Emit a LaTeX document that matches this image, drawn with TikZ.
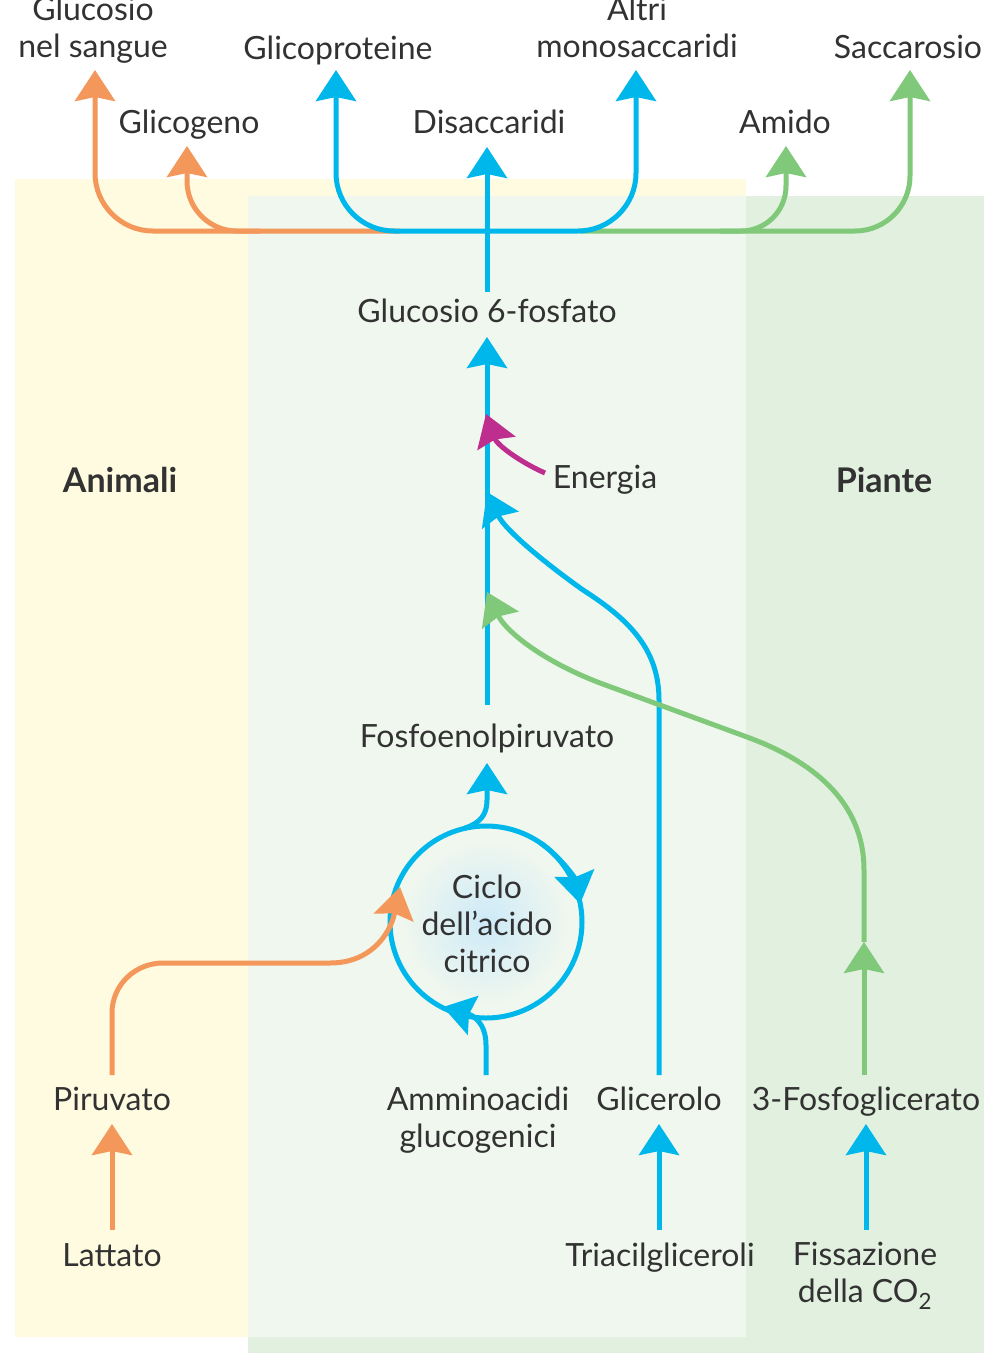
\documentclass[tikz,border=0pt]{standalone}
\usepackage{fontspec}
\setmainfont{Lato}
\usetikzlibrary{arrows.meta}
\definecolor{txt}{RGB}{50,50,50}
\definecolor{orL}{RGB}{244,151,90}
\definecolor{blL}{RGB}{0,183,235}
\definecolor{grL}{RGB}{128,201,122}
\definecolor{mgL}{RGB}{190,46,143}
\definecolor{ybg}{RGB}{255,251,224}
\definecolor{gbg}{RGB}{226,241,223}
\definecolor{pbg}{RGB}{240,247,238}
\definecolor{glow}{RGB}{205,234,248}
\begin{document}
\begin{tikzpicture}[x=1pt,y=-1pt,
  lbl/.style={anchor=base, inner sep=0pt, text=txt, font=\fontsize{32}{37}\selectfont, align=center},
  bld/.style={anchor=base, inner sep=0pt, text=txt, font=\fontsize{34}{37}\selectfont\bfseries},
  tiphead/.style={-{Stealth[width=40pt,length=31pt,inset=4pt]}},
  flow/.style={line width=5pt, tiphead},
  orflow/.style={flow, draw=orL},
  blflow/.style={flow, draw=blL},
  grflow/.style={flow, draw=grL},
  mgflow/.style={flow, draw=mgL}]
\useasboundingbox (0,0) rectangle (986,1353);
\fill[white] (0,0) rectangle (986,1353);
% backgrounds
\fill[ybg] (15,179) rectangle (746,1337);
\fill[gbg] (248,196) rectangle (984,1353);
\fill[pbg] (248,196) rectangle (746,1337);

% labels (multi-line nodes: base = last line's baseline)
\node[lbl] (gsang) at (93,57) {Glucosio\\nel sangue};
\node[lbl] (glicogeno) at (189,133) {Glicogeno};
\node[lbl] (glicoprot) at (338,59) {Glicoproteine};
\node[lbl] (disacc) at (489,133) {Disaccaridi};
\node[lbl] (altri) at (637,57) {Altri\\monosaccaridi};
\node[lbl] (amido) at (785,133) {Amido};
\node[lbl] (saccar) at (908,58) {Saccarosio};
\node[lbl] (g6p) at (487,322) {Glucosio 6-fosfato};
\node[bld] (animali) at (120,492) {Animali};
\node[bld] (piante) at (884,492) {Piante};
\node[lbl] (energia) at (605,488) {Energia};
\node[lbl] (pep) at (487,747) {Fosfoenolpiruvato};
\node[lbl] (piruvato) at (112,1110) {Piruvato};
\node[lbl] (ammino) at (478,1147) {Amminoacidi\\glucogenici};
\node[lbl] (glicerolo) at (659,1110) {Glicerolo};
\node[lbl] (fosfogl) at (866,1110) {3-Fosfoglicerato};
\node[lbl] (lattato) at (112,1266) {Lattato};
\node[lbl] (triacil) at (660,1266) {Triacilgliceroli};
\node[lbl] (fissaz) at (865,1302) {Fissazione\\della CO\textsubscript{2}};

% connector end points
\coordinate (cc) at (486,922);
\coordinate (latTop) at (112,1230);
\coordinate (pirBot) at (112,1124);
\coordinate (triTop) at (659,1230);
\coordinate (gliBot) at (659,1124);
\coordinate (fisTop) at (866,1230);
\coordinate (fosBot) at (866,1124);
\coordinate (pirTop) at (112,1075);
\coordinate (amTop) at (486,1075);
\coordinate (gliTop) at (659,1075);
\coordinate (fosTop) at (864,1075);
\coordinate (pepBot) at (487,763);
\coordinate (pepTop) at (487,705);
\coordinate (g6pBot) at (487,337);
\coordinate (g6pTop) at (487,292);
\coordinate (enStart) at (545,473);

% top distribution
\draw[orflow, rounded corners=58pt] (400,231) -- (95,231) -- (95,70);
\draw[orflow, rounded corners=50pt] (260,231) -- (187,231) -- (187,146);
\draw[grflow, rounded corners=55pt] (580,231) -- (910,231) -- (910,70);
\draw[grflow, rounded corners=45pt] (720,231) -- (786,231) -- (786,146);
\draw[line width=5pt, draw=blL, {Stealth[width=40pt,length=31pt,inset=4pt]}-{Stealth[width=40pt,length=31pt,inset=4pt]}, rounded corners=58pt]
  (336,70) -- (336,231) -- (636,231) -- (636,70);
\draw[blflow] (g6pTop) -- (487,147);

% trunk
\draw[blflow] (pepTop) -- (g6pBot);

% bottom short arrows
\draw[orflow] (latTop) -- (pirBot);
\draw[blflow] (triTop) -- (gliBot);
\draw[blflow] (fisTop) -- (fosBot);

% citric acid cycle
\shade[inner color=glow, outer color=pbg] (cc) circle (84);
\draw[blL, line width=5pt] (cc) circle (96);
\draw[blflow] (cc) ++(305:96) arc[start angle=305, end angle=349, radius=96];
\node[lbl] (ciclo) at (487,972) {Ciclo\\dell’acido\\citrico};
\draw[blflow] (465,828) .. controls (480,823) and (487,815) .. (487,800) -- (pepBot);

% into the cycle
\draw[orflow] (pirTop) -- (112,1013) .. controls (112,985) and (135,963) .. (163,963) -- (330,963)
  .. controls (370,963) and (390,935) .. (400,887);
\draw[blflow] (amTop) -- (486,1045) .. controls (486,1022) and (472,1015) .. (443,1007);

% glycerol
\draw[blflow] (gliTop) -- (659,700) .. controls (659,650) and (630,620) .. (583,590)
  .. controls (545,563) and (505,530) .. (487,492);

% 3-phosphoglycerate
\draw[grflow] (fosTop) -- (864,942);
\draw[grflow] (864,942) -- (864,870) .. controls (864,800) and (810,760) .. (747,737) -- (600,683)
  .. controls (540,660) and (505,630) .. (487,592);

% energy
\draw[mgflow] (enStart) .. controls (520,462) and (497,445) .. (486,414);
\end{tikzpicture}
\end{document}
